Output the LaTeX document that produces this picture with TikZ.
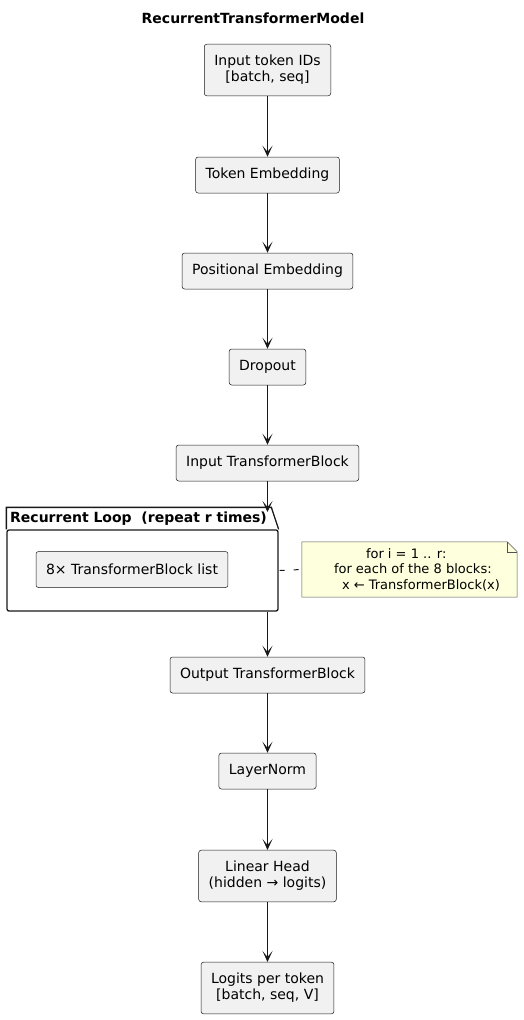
\documentclass[tikz,border=0pt]{standalone}
\usepackage{fontspec}
\setmainfont{DejaVu Sans}
\usetikzlibrary{arrows.meta}
\definecolor{boxfill}{HTML}{F1F1F1}
\definecolor{boxline}{HTML}{181818}
\definecolor{notefill}{HTML}{FEFFDD}
\tikzset{
	stage/.style={draw=boxline, fill=boxfill, rounded corners=2.5pt, line width=0.5pt,%
		align=center, inner xsep=10pt, inner ysep=11pt, minimum height=36pt,%
		font=\fontsize{14}{16}\selectfont},
	flow/.style={->, draw=boxline, line width=1pt},
	notebox/.style={minimum width=215pt, minimum height=55pt, inner sep=0pt},
	notetext/.style={align=left, inner sep=0pt, font=\fontsize{13}{15.5}\selectfont},
}
\begin{document}
\begin{tikzpicture}[>={Stealth[length=11pt,width=10pt,inset=6pt]},x=1pt,y=-1pt]
	\useasboundingbox (0,0) rectangle (523,1020);
	\node[font=\bfseries\fontsize{14}{16}\selectfont] (title) at (253,18) {RecurrentTransformerModel};
	\node[stage] (ids) at (267.5,70) {Input token IDs\\{}[batch, seq]};
	\node[stage] (tok) at (267.5,175) {Token Embedding};
	\node[stage] (pos) at (267.5,271) {Positional Embedding};
	\node[stage] (drop) at (267.5,367) {Dropout};
	\node[stage] (inp) at (267.5,463) {Input TransformerBlock};
	% recurrent loop package
	\node[draw=boxline, line width=1.3pt, rounded corners=2pt, minimum width=271pt,%
		minimum height=81pt, inner sep=0pt] (loop) at (142.5,570.5) {};
	\draw[boxline, line width=1.3pt] (loop.north west) -- ++(0,-22) -- ++(265,0) -- (loop.north east);
	\node[anchor=west, inner sep=0pt, font=\bfseries\fontsize{14}{16}\selectfont] (looptitle)%
		at (10,519) {Recurrent Loop \ (repeat r times)};
	\coordinate (looptop) at (267.5,512);
	\node[stage] (blocks) at (132,569.5) {8× TransformerBlock list};
	\node[stage] (out) at (267.5,675) {Output TransformerBlock};
	\node[stage] (norm) at (267.5,771) {LayerNorm};
	\node[stage] (head) at (267.5,876) {Linear Head\\(hidden → logits)};
	\node[stage] (logits) at (267.5,988) {Logits per token\\{}[batch, seq, V]};
	% note
	\node[notebox] (note) at (409.5,569.5) {};
	\draw[boxline!75, fill=notefill, line width=0.5pt] (note.north west) -- ([xshift=-10pt]note.north east)%
		-- ([yshift=-10pt]note.north east) -- (note.south east) -- (note.south west) -- cycle;
	\draw[boxline!75, line width=0.5pt] ([xshift=-10pt]note.north east) |- ([yshift=-10pt]note.north east);
	\node[notetext, anchor=west] (notetxt) at ([xshift=32pt]note.west)%
		{\hspace{32pt}for i = 1 .. r:\\for each of the 8 blocks:\\\hspace{8pt}x ← TransformerBlock(x)};
	\draw[boxline, line width=1pt, dash pattern=on 5pt off 9pt, dash phase=-1pt] (loop.east) -- (note.west);
	% arrows
	\draw[flow] (ids) -- (tok);
	\draw[flow] (tok) -- (pos);
	\draw[flow] (pos) -- (drop);
	\draw[flow] (drop) -- (inp);
	\draw[flow] (inp) -- (looptop);
	\draw[flow] (loop.south -| out) -- (out);
	\draw[flow] (out) -- (norm);
	\draw[flow] (norm) -- (head);
	\draw[flow] (head) -- (logits);
\end{tikzpicture}
\end{document}
